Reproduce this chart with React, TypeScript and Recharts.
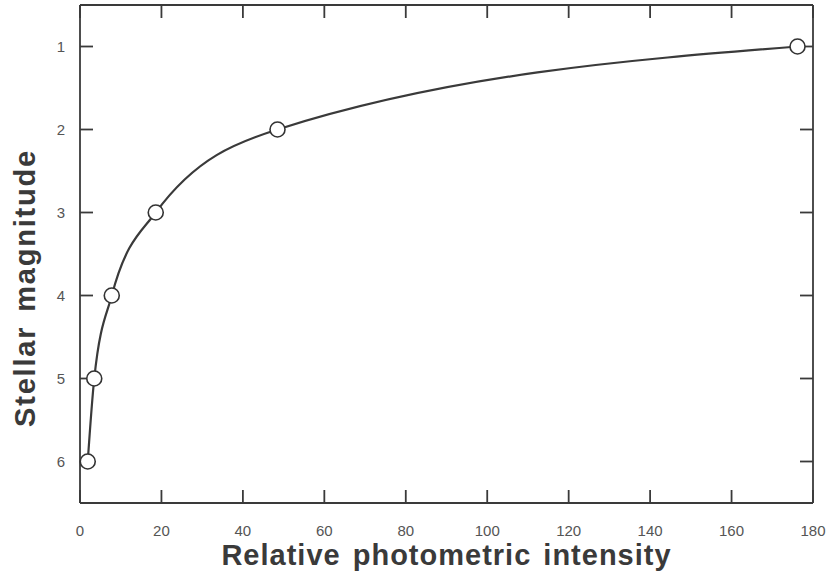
import { LineChart, Line, XAxis, YAxis, Label } from "recharts"

const intensity = [1.9, 3.5, 7.8, 18.6, 48.5, 176.2]
const magnitude = [6, 5, 4, 3, 2, 1]
const xTicks = [0, 20, 40, 60, 80, 100, 120, 140, 160, 180]
const yTicks = [1, 2, 3, 4, 5, 6]

const data = intensity.map((v, i) => ({ intensity: v, magnitude: magnitude[i] }))

const ink = "#3a3a3a"
const tickInk = "#555"
const font = "'Liberation Sans', Arial, sans-serif"

// tick labels only; the inward tick marks come from negative tickSize
const BottomLabel = ({ x, y, payload }: any) => (
  <text x={x} y={y} textAnchor="middle" fontSize={15} fill={tickInk} fontFamily={font}>
    {payload.value}
  </text>
)

const LeftLabel = ({ x, y, payload }: any) => (
  <text x={x} y={y + 5} textAnchor="middle" fontSize={15} fill={tickInk} fontFamily={font}>
    {payload.value}
  </text>
)

// tick={false} drops the tick lines too, so use an empty label instead
const NoLabel = () => <g />

const tickStyle = { stroke: ink, strokeWidth: 1.8 }
const frameStyle = { stroke: ink, strokeWidth: 1.8 }

export default function App() {
  return (
    <div style={{ position: "absolute", left: 0, top: 0, background: "#fff" }}>
      <LineChart width={829} height={575} data={data} margin={{ top: 4, right: 15, bottom: 0, left: 0 }}>
        <XAxis
          xAxisId="bottom"
          type="number"
          dataKey="intensity"
          domain={[0, 180]}
          ticks={xTicks}
          height={72}
          tickSize={-13}
          tickMargin={46}
          tickLine={tickStyle}
          axisLine={frameStyle}
          tick={<BottomLabel />}
          interval={0}
        >
          <Label
            content={({ viewBox }: any) => (
              <text
                x={viewBox.x + viewBox.width / 2}
                y={viewBox.y + 62}
                textAnchor="middle"
                fontSize={29}
                fontWeight="bold"
                letterSpacing={1.0}
                wordSpacing={3}
                fill="#3a3a3a"
                fontFamily={font}
              >
                Relative photometric intensity
              </text>
            )}
          />
        </XAxis>
        <XAxis
          xAxisId="top"
          orientation="top"
          type="number"
          dataKey="intensity"
          domain={[0, 180]}
          ticks={xTicks}
          height={1}
          tickSize={-13}
          tickLine={tickStyle}
          axisLine={frameStyle}
          tick={<NoLabel />}
          interval={0}
        />
        <YAxis
          yAxisId="left"
          type="number"
          dataKey="magnitude"
          domain={[0.5, 6.5]}
          reversed
          ticks={yTicks}
          width={80}
          tickSize={-13}
          tickMargin={32}
          tickLine={tickStyle}
          axisLine={frameStyle}
          tick={<LeftLabel />}
          interval={0}
        >
          <Label
            content={() => {
              const cx = 25
              const cy = 288
              return (
                <text
                  x={cx}
                  y={cy}
                  transform={`rotate(-90 ${cx} ${cy})`}
                  textAnchor="middle"
                  dominantBaseline="central"
                  fontSize={29}
                  fontWeight="bold"
                  letterSpacing={1.8}
                  wordSpacing={4}
                  fill="#3a3a3a"
                  fontFamily={font}
                >
                  Stellar magnitude
                </text>
              )
            }}
          />
        </YAxis>
        <YAxis
          yAxisId="right"
          orientation="right"
          type="number"
          dataKey="magnitude"
          domain={[0.5, 6.5]}
          reversed
          ticks={yTicks}
          width={1}
          tickSize={-13}
          tickLine={tickStyle}
          axisLine={frameStyle}
          tick={<NoLabel />}
          interval={0}
        />
        {/* invisible series so the top/right frame axes get their ticks */}
        <Line
          xAxisId="top"
          yAxisId="right"
          dataKey="magnitude"
          stroke="none"
          dot={false}
          activeDot={false}
          isAnimationActive={false}
        />
        <Line
          xAxisId="bottom"
          yAxisId="left"
          type="monotone"
          dataKey="magnitude"
          stroke={ink}
          strokeWidth={2.2}
          dot={{ r: 7.5, fill: "#fff", stroke: "#333", strokeWidth: 1.6 }}
          activeDot={false}
          isAnimationActive={false}
        />
      </LineChart>
    </div>
  )
}
